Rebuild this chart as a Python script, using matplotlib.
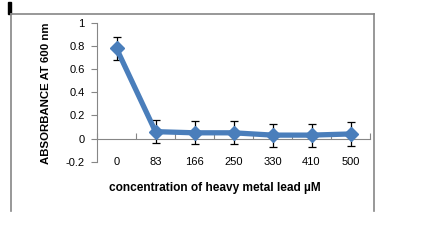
import numpy as np
import matplotlib.pyplot as plt
from matplotlib.lines import Line2D
from matplotlib.patches import Rectangle

# data
concentrations = ['0', '83', '166', '250', '330', '410', '500']
absorbance = [0.78, 0.06, 0.05, 0.05, 0.03, 0.03, 0.04]
errors = [0.10, 0.10, 0.10, 0.10, 0.10, 0.10, 0.10]
yticks = [-0.2, 0, 0.2, 0.4, 0.6, 0.8, 1]

W, H = 425, 252
fig = plt.figure(figsize=(W / 100, H / 100), dpi=100)
plt.rcParams['font.family'] = ['Liberation Sans', 'DejaVu Sans']


def fx(px):
    return px / W


def fy(py):
    return 1 - py / H


# outer chart frame (bottom edge cut off in the reference)
frame_col = '#868686'
fig.add_artist(Line2D([fx(11), fx(11)], [fy(14), fy(211)], color=frame_col, lw=1.2))
fig.add_artist(Line2D([fx(11), fx(374)], [fy(14), fy(14)], color=frame_col, lw=1.2))
fig.add_artist(Line2D([fx(374), fx(374)], [fy(14), fy(211)], color=frame_col, lw=1.2))
fig.add_artist(Rectangle((fx(8), fy(14)), fx(3), 12 / H, color='black'))

ax = fig.add_axes([fx(97), fy(161.7), fx(370) - fx(97), fy(23) - fy(161.7)])
x = np.arange(len(concentrations))
ax.errorbar(x, absorbance, yerr=errors, color='#4A7EBB', lw=3.8, marker='D',
            markersize=7, ecolor='black', elinewidth=0.9, capsize=3, capthick=0.9,
            zorder=3)

ax.set_xlim(-0.5, len(concentrations) - 0.5)
ax.set_ylim(-0.2, 1)
ax.set_yticks(yticks)
ax.set_yticklabels([f'{v:g}' for v in yticks], fontsize=8)
ax.tick_params(axis='y', direction='out', length=4, color=frame_col, pad=5)

# category boundary ticks on the zero line, pointing up
ax.spines['bottom'].set_position(('data', 0))
ax.set_xticks(np.arange(len(concentrations) + 1) - 0.5)
ax.set_xticklabels([])
ax.tick_params(axis='x', direction='in', length=4, color=frame_col)
for i, lab in enumerate(concentrations):
    ax.text(i, -0.2, lab, ha='center', va='center', fontsize=8)

for s in ['top', 'right']:
    ax.spines[s].set_visible(False)
for s in ['left', 'bottom']:
    ax.spines[s].set_color(frame_col)

fig.text(fx(215), fy(188), 'concentration of heavy metal lead \u00b5M', ha='center',
         va='center', fontsize=8.6, fontweight='bold')
fig.text(fx(46), fy(93), 'ABSORBANCE AT 600 nm', rotation=90, ha='center',
         va='center', fontsize=8.2, fontweight='bold')

fig.savefig('out.png', dpi=100)
